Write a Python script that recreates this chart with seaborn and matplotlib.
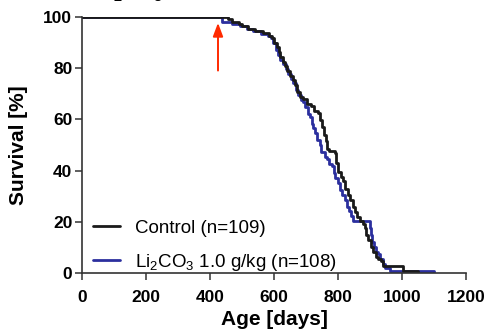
import numpy as np
import pandas as pd
import matplotlib
matplotlib.use("Agg")
import matplotlib.pyplot as plt
import seaborn as sns

# Kaplan-Meier step points: (age in days, survival %)
control_days = [0, 456, 470, 490, 500, 520, 540, 566, 585, 595, 600, 608, 615, 620,
                628, 635, 642, 650, 658, 665, 671, 680, 690, 702, 715, 725, 738, 745,
                750, 757, 762, 767, 772, 791, 795, 800, 808, 816, 822, 830, 837, 846,
                852, 859, 868, 878, 884, 888, 895, 902, 910, 918, 925, 935, 941, 1003,
                1050]
control_surv = [100, 99.1, 98.2, 97.2, 96.3, 95.4, 94.5, 93.6, 92.7, 91.7, 89.9, 88.1,
                86.2, 84.4, 82.6, 80.7, 78.9, 77.1, 75.2, 73.4, 70.6, 68.8, 67.9, 66.1,
                65.1, 63.3, 62.4, 59.6, 56.9, 54.1, 51.4, 48.6, 47.7, 46.8, 43.1, 39.4,
                37.6, 35.8, 33.0, 30.3, 28.4, 25.7, 23.9, 22.0, 20.2, 19.3, 17.4, 14.7,
                12.8, 10.1, 8.3, 6.4, 5.5, 4.6, 2.8, 0.9, 0]

lithium_days = [0, 437, 470, 495, 515, 535, 560, 580, 592, 598, 605, 612, 620, 628,
                636, 645, 652, 660, 668, 676, 684, 691, 697, 705, 712, 718, 722, 728,
                735, 744, 748, 759, 765, 772, 781, 786, 792, 800, 806, 814, 822, 828,
                835, 840, 847, 900, 903, 907, 913, 920, 925, 932, 941, 947, 962, 1100]
lithium_surv = [100, 98.1, 97.2, 96.3, 95.4, 94.4, 93.5, 92.6, 91.7, 89.8, 87.0, 85.2,
                83.3, 81.5, 79.6, 77.8, 75.9, 74.1, 71.3, 69.4, 67.6, 66.7, 64.8, 62.0,
                61.1, 58.3, 56.5, 54.6, 51.9, 50.0, 47.2, 45.4, 44.4, 42.6, 41.7, 38.9,
                37.0, 35.2, 32.4, 30.6, 28.7, 25.9, 24.1, 22.2, 20.4, 17.6, 14.8, 12.0,
                10.2, 8.3, 7.4, 5.6, 3.7, 1.9, 0.9, 0]

groups = ["Control (n=109)", "Li$_2$CO$_3$ 1.0 g/kg (n=108)"]
colors = ["#1a1a1a", "#2b2f9e"]

arrow_day = 425
x_ticks = [0, 200, 400, 600, 800, 1000, 1200]
y_ticks = [0, 20, 40, 60, 80, 100]

df = pd.concat([
    pd.DataFrame({"age": control_days, "surv": control_surv, "group": groups[0]}),
    pd.DataFrame({"age": lithium_days, "surv": lithium_surv, "group": groups[1]}),
])

sns.set_style("ticks")
plt.rcParams["font.family"] = ["Liberation Sans", "DejaVu Sans"]
plt.rcParams["mathtext.fontset"] = "custom"
plt.rcParams["mathtext.rm"] = "Liberation Sans"
plt.rcParams["mathtext.default"] = "regular"
plt.rcParams["text.color"] = "black"
plt.rcParams["axes.labelcolor"] = "black"
plt.rcParams["xtick.labelcolor"] = "black"
plt.rcParams["ytick.labelcolor"] = "black"

fig = plt.figure(figsize=(4.87, 3.35), dpi=100)
ax = fig.add_axes([82 / 487, 1 - 273 / 335, 384 / 487, 256 / 335])

sns.lineplot(data=df, x="age", y="surv", hue="group", hue_order=groups[::-1],
             palette=colors[::-1], estimator=None, sort=False,
             drawstyle="steps-post", linewidth=2.0, legend=False, ax=ax)

ax.set_xlim(0, 1200)
ax.set_ylim(0, 100)
ax.set_xticks(x_ticks)
ax.set_yticks(y_ticks)
ax.set_xlabel("Age [days]", fontsize=15, fontweight="bold", labelpad=4)
ax.set_ylabel("Survival [%]", fontsize=15, fontweight="bold", labelpad=11)
for lab in ax.get_xticklabels() + ax.get_yticklabels():
    lab.set_fontweight("bold")
ax.tick_params(labelsize=12.5, width=1.1, length=5, color="#333333")
ax.tick_params(axis="x", pad=7)
ax.tick_params(axis="y", pad=2)
for s in ["left", "bottom"]:
    ax.spines[s].set_linewidth(1.2)
    ax.spines[s].set_color("#333333")
sns.despine(ax=ax)

# red arrow marking the start of treatment
ax.annotate("", xy=(arrow_day, 98.8), xytext=(arrow_day, 78),
            arrowprops=dict(arrowstyle="-|>,head_width=0.3,head_length=0.8",
                            color="#ff2a00", lw=1.4))

handles = ax.lines[:2][::-1]
ax.legend(handles, groups, loc="lower left", bbox_to_anchor=(0.028, 0.0),
          frameon=False, fontsize=13.5, handlelength=1.45, handletextpad=0.8,
          borderpad=0, borderaxespad=0, labelspacing=0.8)

# title that runs off the top edge of the figure
fig.text(95 / 487, 1.003, "Li$_2$CO$_3$", fontsize=15, fontweight="bold",
         va="baseline", ha="left")

fig.savefig("out.png", dpi=100)
